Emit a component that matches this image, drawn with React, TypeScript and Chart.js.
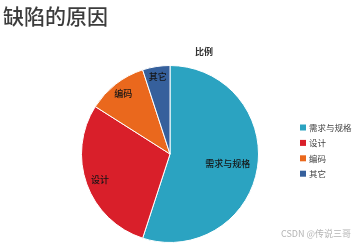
import { useEffect, useRef } from "react";
import { Chart, registerables } from "chart.js";

Chart.register(...registerables);

const pageTitle = "缺陷的原因";
const chartTitle = "比例";
const categories = ["需求与规格", "设计", "编码", "其它"];
const shares = [55, 29, 11, 5];
const credit = "CSDN @传说三哥";

const sliceColors = ["#2ba3c1", "#d91f2a", "#ea681d", "#36609c"];
// how far out (as a fraction of the radius) each slice's name sits
const labelRadius = [0.66, 0.84, 0.86, 0.89];

const FONT = "'Noto Sans CJK SC', 'Noto Sans', sans-serif";

const decorPlugin = {
  id: "decor",
  afterDraw(chart: any) {
    const ctx = chart.ctx as CanvasRenderingContext2D;
    ctx.save();

    // page heading
    ctx.font = `500 21px ${FONT}`;
    ctx.fillStyle = "#3c3c3c";
    ctx.textAlign = "left";
    ctx.textBaseline = "middle";
    ctx.fillText(pageTitle, 3, 16.5);

    // chart title
    ctx.font = `bold 9px ${FONT}`;
    ctx.fillStyle = "#333333";
    ctx.textAlign = "center";
    ctx.fillText(chartTitle, 204, 51.5);

    // slice names
    const meta = chart.getDatasetMeta(0);
    ctx.font = `500 9px ${FONT}`;
    ctx.fillStyle = "#151515";
    meta.data.forEach((arc: any, i: number) => {
      const p = arc.getProps(["x", "y", "startAngle", "endAngle", "outerRadius"], true);
      const mid = (p.startAngle + p.endAngle) / 2;
      const r = p.outerRadius * labelRadius[i];
      ctx.fillText(chart.data.labels[i], p.x + Math.cos(mid) * r, p.y + Math.sin(mid) * r);
    });

    // legend
    ctx.textAlign = "left";
    const colors = chart.data.datasets[0].backgroundColor as string[];
    chart.data.labels.forEach((lab: string, i: number) => {
      const cy = 127.5 + i * 15.4;
      ctx.fillStyle = colors[i];
      ctx.fillRect(300, cy - 3, 6, 6);
      ctx.fillStyle = "#444444";
      ctx.font = `8.5px ${FONT}`;
      ctx.fillText(lab, 309, cy);
    });

    // credit line
    ctx.font = `9px ${FONT}`;
    ctx.fillStyle = "#b4b4b4";
    ctx.fillText(credit, 281, 234);

    ctx.restore();
  },
};

export default function App() {
  const ref = useRef<HTMLCanvasElement | null>(null);

  useEffect(() => {
    if (!ref.current) return;
    const chart = new Chart(ref.current, {
      type: "pie",
      data: {
        labels: categories,
        datasets: [
          {
            data: shares,
            backgroundColor: sliceColors,
            borderColor: "#ffffff",
            borderWidth: 1,
          },
        ],
      },
      options: {
        responsive: false,
        animation: false,
        devicePixelRatio: 1,
        layout: { padding: { left: 81, right: 101, top: 65, bottom: 3 } },
        plugins: {
          legend: { display: false },
          tooltip: { enabled: false },
          title: { display: false },
        },
      },
      plugins: [decorPlugin],
    });
    return () => chart.destroy();
  }, []);

  return (
    <div style={{ position: "fixed", left: 0, top: 0, width: 360, height: 246, background: "#ffffff" }}>
      <canvas ref={ref} width={360} height={246} style={{ display: "block" }} />
    </div>
  );
}
